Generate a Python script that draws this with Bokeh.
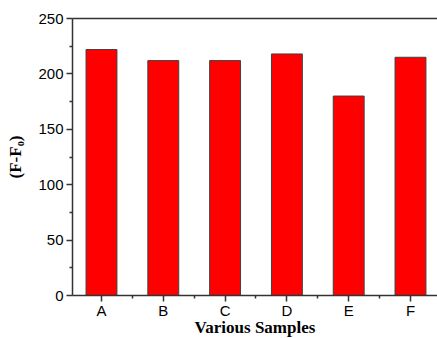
from bokeh.plotting import figure
from bokeh.models import FixedTicker, Range1d, LinearAxis
from bokeh.embed import file_html
from bokeh.resources import INLINE

categories = ["A", "B", "C", "D", "E", "F"]
values = [222, 212, 212, 218, 180, 215]
y_ticks = [0, 50, 100, 150, 200, 250]
y_minor = [25, 75, 125, 175, 225]

xs = list(range(1, len(categories) + 1))

p = figure(frame_width=365, frame_height=277, output_backend="svg", toolbar_location=None,
           x_range=Range1d(0.531, 6.437), y_range=Range1d(0, 250),
           min_border_left=72, min_border_top=18, min_border_right=0, min_border_bottom=10)

p.vbar(x=xs, top=values, width=0.5, fill_color="#ff0000", line_color="#404040", line_width=1)

p.grid.visible = False
p.background_fill_color = "white"
p.border_fill_color = "white"
p.outline_line_color = None

xax = p.below[0]
yax = p.left[0]

for ax in (xax, yax):
    ax.axis_line_color = "#333333"
    ax.axis_line_width = 1.5
    ax.major_tick_in = 0
    ax.major_tick_out = 6
    ax.minor_tick_in = 0
    ax.minor_tick_out = 3
    ax.major_tick_line_color = "#333333"
    ax.minor_tick_line_color = "#333333"
    ax.major_tick_line_width = 1.5
    ax.minor_tick_line_width = 1.5
    ax.major_label_text_font = "Liberation Sans"
    ax.major_label_text_font_size = "15px"
    ax.major_label_text_color = "black"
    ax.axis_label_text_font = "Liberation Serif"
    ax.axis_label_text_font_style = "bold"
    ax.axis_label_text_font_size = "17px"
    ax.axis_label_text_color = "black"

xax.ticker = FixedTicker(ticks=xs, minor_ticks=[x + 0.5 for x in xs[:-1]])
xax.major_label_overrides = {x: c for x, c in zip(xs, categories)}
xax.axis_label = "Various Samples"
xax.major_label_standoff = 0
xax.axis_label_standoff = -4

yax.ticker = FixedTicker(ticks=y_ticks, minor_ticks=y_minor)
yax.axis_label = "(F-F₀)"
yax.major_label_standoff = 3
yax.axis_label_standoff = 10

top_axis = LinearAxis(ticker=FixedTicker(ticks=[]), major_label_text_font_size="0px",
                      major_tick_line_color=None, minor_tick_line_color=None,
                      axis_line_color="#333333", axis_line_width=1.5)
p.add_layout(top_axis, "above")

open("out.html", "w").write(file_html(p, INLINE))
